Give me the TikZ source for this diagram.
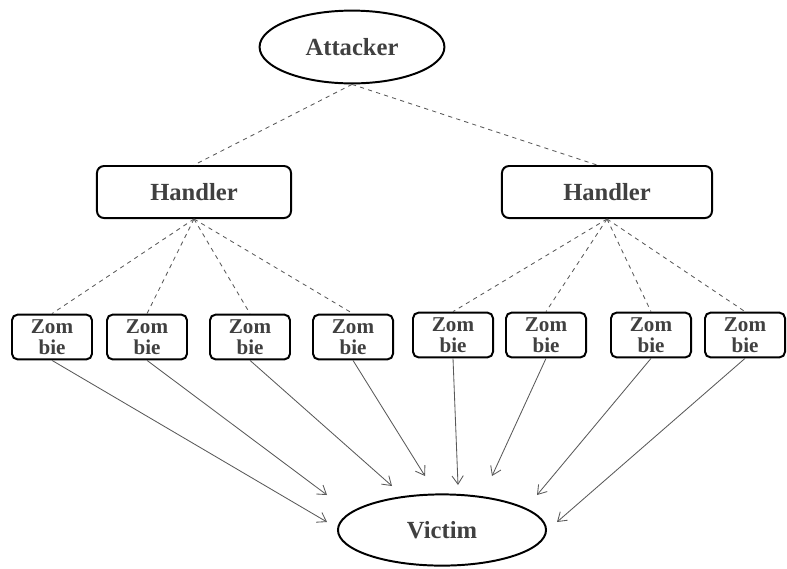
\documentclass[tikz,border=0pt]{standalone}
\usepackage{fontspec}
\setmainfont{Liberation Serif}
\usetikzlibrary{positioning, arrows.meta, shapes.geometric}

\begin{document}
\begin{tikzpicture}[x=0.025cm, y=-0.025cm,
    every node/.style={font=\fontsize{17.5}{19}\selectfont\bfseries, text=black!75},
    endpt/.style={ellipse, draw, line width=1.4pt, inner sep=0pt},
    handler/.style={rectangle, rounded corners=5pt, draw, line width=1.4pt,
                    minimum width=4.85cm, minimum height=1.3cm},
    zombie/.style={rectangle, rounded corners=4pt, draw, line width=1.4pt,
                   minimum width=2cm, minimum height=1.12cm, align=center,
                   inner sep=1pt, font=\fontsize{15}{14.5}\selectfont\bfseries},
    ctrl/.style={draw=black!65, dashed, line width=0.6pt},
    flood/.style={draw=black!65, line width=0.6pt, -{Straight Barb[length=6pt, width=8pt]}},
  ]
    \useasboundingbox (0,0) rectangle (787,568);
    % attacker and victim
    \node[endpt, minimum width=4.62cm, minimum height=1.82cm] (att) at (352,47) {Attacker};
    \node[endpt, minimum width=5.2cm, minimum height=1.78cm] (vic) at (442,530) {Victim};
    % handlers
    \node[handler] (hL) at (194,192) {Handler};
    \node[handler, minimum width=5.25cm] (hR) at (607,192) {Handler};
    \draw[ctrl] (att.south) -- (hL.north);
    \draw[ctrl] (att.south) -- ([xshift=-0.25cm]hR.north);
    % zombies: name/x/y/handler/arrow tip
    \foreach \name/\x/\y/\h/\tx/\ty in {%
      z1/52/337/hL/327/522, z2/147/337/hL/327/495, z3/250/337/hL/392/486,
      z4/353/337/hL/425/476, z5/453/335/hR/458/485, z6/546/335/hR/492/476,
      z7/651/335/hR/537/495, z8/745/335/hR/557/522} {
        \node[zombie] (\name) at (\x,\y) {Zom\\bie};
        \draw[ctrl] (\h.south) -- (\name.north);
        \coordinate (t\name) at (\tx,\ty);
        \draw[flood] (\name.south) -- (t\name);
      }
  \end{tikzpicture}
\end{document}
